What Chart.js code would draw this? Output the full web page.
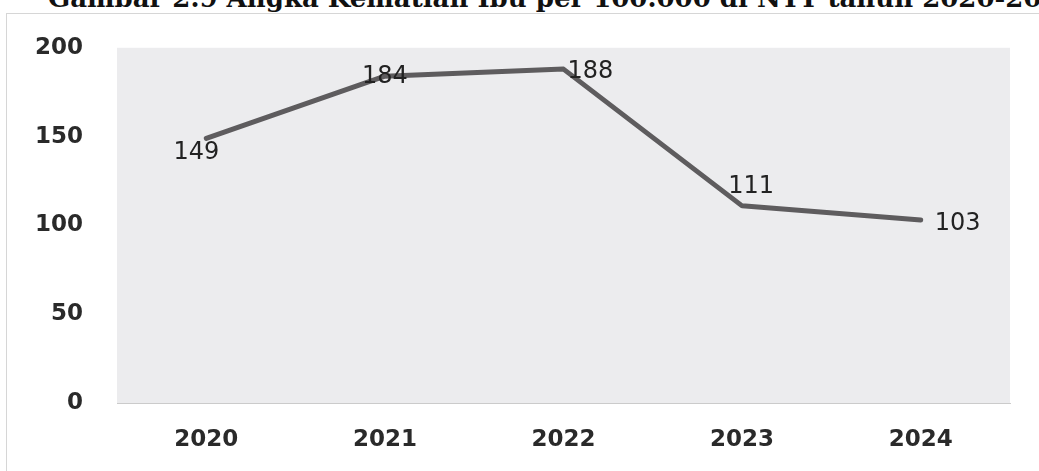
<!DOCTYPE html>
<html>
<head>
<meta charset="utf-8">
<script src="https://cdn.jsdelivr.net/npm/chart.js@4"></script>
<style>
  html, body { margin: 0; padding: 0; background: #fff; }
  #wrap { position: relative; width: 1039px; height: 471px; overflow: hidden; }
  #title {
    position: absolute; left: 48px; top: -15px; white-space: nowrap;
    font-family: "DejaVu Serif", serif; font-weight: bold; font-size: 26px;
    line-height: 26px; color: #111;
  }
  #frame {
    position: absolute; left: 6px; top: 13px; width: 1040px; height: 470px;
    border-left: 1px solid #d6d6d6; border-top: 1px solid #d6d6d6;
  }
  #chartBox { position: absolute; left: 0; top: 0; width: 1039px; height: 471px; }
</style>
</head>
<body>
<div id="wrap">
  <div id="title">Gambar 2.9 Angka Kematian Ibu per 100.000 di NTT tahun 2020-2024</div>
  <div id="frame"></div>
  <div id="chartBox"><canvas id="akiChart"></canvas></div>
</div>
<script>
// data
const years = ['2020', '2021', '2022', '2023', '2024'];
const akiValues = [149, 184, 188, 111, 103];
const yTicks = [0, 50, 100, 150, 200];

// where each value label sits relative to its point: [dx, dy, align]
const labelPlacement = [[-10, 14, 'center'], [0, 1, 'center'], [4, 3, 'left'], [9, -19, 'center'], [14, 4, 'left']];

const plotBackground = {
  id: 'plotBackground',
  beforeDraw(chart) {
    const { ctx, chartArea: a } = chart;
    ctx.save();
    ctx.fillStyle = '#ececee';
    ctx.fillRect(a.left, a.top, a.right - a.left, a.bottom - a.top);
    ctx.restore();
  }
};

const valueLabels = {
  id: 'valueLabels',
  afterDatasetsDraw(chart) {
    const ctx = chart.ctx;
    const meta = chart.getDatasetMeta(0);
    ctx.save();
    ctx.font = '24px "DejaVu Sans", sans-serif';
    ctx.fillStyle = '#222';
    ctx.textBaseline = 'middle';
    meta.data.forEach((pt, i) => {
      const p = labelPlacement[i];
      ctx.textAlign = p[2];
      ctx.fillText(String(akiValues[i]), pt.x + p[0], pt.y + p[1]);
    });
    ctx.restore();
  }
};

new Chart(document.getElementById('akiChart').getContext('2d'), {
  type: 'line',
  data: {
    labels: years,
    datasets: [{
      data: akiValues,
      borderColor: '#5e5c5e',
      borderWidth: 5,
      pointRadius: 0,
      tension: 0,
      borderCapStyle: 'round',
      borderJoinStyle: 'round'
    }]
  },
  options: {
    responsive: true,
    maintainAspectRatio: false,
    animation: false,
    layout: { padding: { top: 44, right: 29, bottom: 0, left: 0 } },
    plugins: { legend: { display: false }, tooltip: { enabled: false } },
    scales: {
      x: {
        offset: true,
        grid: { display: false, drawTicks: false },
        border: { display: true, color: '#cbcbcb', width: 1 },
        ticks: {
          padding: 23,
          color: '#2a2a2a',
          font: { family: '"DejaVu Sans", sans-serif', size: 23, weight: 'bold' }
        },
        afterFit(s) { s.height = 68; }
      },
      y: {
        min: 0,
        max: 200,
        afterBuildTicks(s) { s.ticks = yTicks.map(v => ({ value: v })); },
        grid: { display: false, drawTicks: false },
        border: { display: false },
        ticks: {
          padding: 34,
          color: '#2a2a2a',
          font: { family: '"DejaVu Sans", sans-serif', size: 23, weight: 'bold' }
        },
        afterFit(s) { s.width = 117; }
      }
    }
  },
  plugins: [plotBackground, valueLabels]
});
</script>
</body>
</html>
